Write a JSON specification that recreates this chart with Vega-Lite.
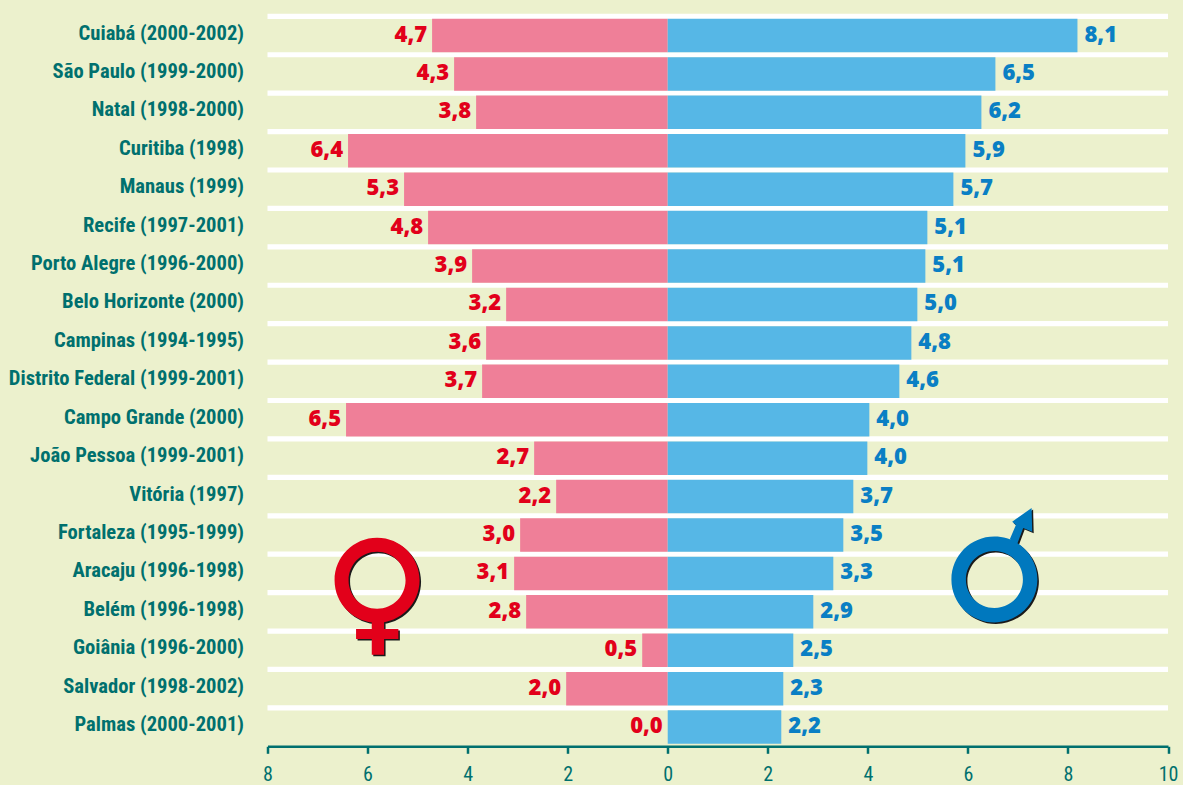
{"$schema":"https://vega.github.io/schema/vega-lite/v6.json","autosize":{"type":"none"},"padding":{"left":267.5,"top":16.3,"right":15,"bottom":38.7},"width":900.5,"height":730,"background":"#ECF1CD","config":{"view":{"stroke":null}},
"datasets":{"linhas":[
{"cidade":"Cuiabá (2000-2002)","mulheres":-4.71,"homens":8.19,"rm":"4,7","rh":"8,1"},
{"cidade":"São Paulo (1999-2000)","mulheres":-4.27,"homens":6.55,"rm":"4,3","rh":"6,5"},
{"cidade":"Natal (1998-2000)","mulheres":-3.83,"homens":6.27,"rm":"3,8","rh":"6,2"},
{"cidade":"Curitiba (1998)","mulheres":-6.39,"homens":5.95,"rm":"6,4","rh":"5,9"},
{"cidade":"Manaus (1999)","mulheres":-5.27,"homens":5.71,"rm":"5,3","rh":"5,7"},
{"cidade":"Recife (1997-2001)","mulheres":-4.79,"homens":5.19,"rm":"4,8","rh":"5,1"},
{"cidade":"Porto Alegre (1996-2000)","mulheres":-3.91,"homens":5.15,"rm":"3,9","rh":"5,1"},
{"cidade":"Belo Horizonte (2000)","mulheres":-3.23,"homens":4.99,"rm":"3,2","rh":"5,0"},
{"cidade":"Campinas (1994-1995)","mulheres":-3.63,"homens":4.87,"rm":"3,6","rh":"4,8"},
{"cidade":"Distrito Federal (1999-2001)","mulheres":-3.71,"homens":4.63,"rm":"3,7","rh":"4,6"},
{"cidade":"Campo Grande (2000)","mulheres":-6.43,"homens":4.03,"rm":"6,5","rh":"4,0"},
{"cidade":"João Pessoa (1999-2001)","mulheres":-2.67,"homens":3.99,"rm":"2,7","rh":"4,0"},
{"cidade":"Vitória (1997)","mulheres":-2.23,"homens":3.71,"rm":"2,2","rh":"3,7"},
{"cidade":"Fortaleza (1995-1999)","mulheres":-2.95,"homens":3.51,"rm":"3,0","rh":"3,5"},
{"cidade":"Aracaju (1996-1998)","mulheres":-3.07,"homens":3.31,"rm":"3,1","rh":"3,3"},
{"cidade":"Belém (1996-1998)","mulheres":-2.83,"homens":2.91,"rm":"2,8","rh":"2,9"},
{"cidade":"Goiânia (1996-2000)","mulheres":-0.51,"homens":2.51,"rm":"0,5","rh":"2,5"},
{"cidade":"Salvador (1998-2002)","mulheres":-2.03,"homens":2.31,"rm":"2,0","rh":"2,3"},
{"cidade":"Palmas (2000-2001)","mulheres":0,"homens":2.27,"rm":"0,0","rh":"2,2"}
],"simbolos":[{"sexo":"Mulheres","x":-5.8,"cidade":"Aracaju (1996-1998)"},{"sexo":"Homens","x":6.54,"cidade":"Aracaju (1996-1998)"}]},
"data":{"name":"linhas"},
"encoding":{"y":{"field":"cidade","type":"nominal","title":null,"scale":{"domain":["Cuiabá (2000-2002)","São Paulo (1999-2000)","Natal (1998-2000)","Curitiba (1998)","Manaus (1999)","Recife (1997-2001)","Porto Alegre (1996-2000)","Belo Horizonte (2000)","Campinas (1994-1995)","Distrito Federal (1999-2001)","Campo Grande (2000)","João Pessoa (1999-2001)","Vitória (1997)","Fortaleza (1995-1999)","Aracaju (1996-1998)","Belém (1996-1998)","Goiânia (1996-2000)","Salvador (1998-2002)","Palmas (2000-2001)"],"paddingInner":0,"paddingOuter":0},"axis":{"domain":false,"ticks":false,"grid":false,"labelPadding":24,"labelOffset":-2,"labelFont":"Roboto Condensed, Noto Sans Condensed, Open Sans Condensed, DejaVu Sans Condensed, Roboto","labelFontWeight":"bold","labelFontSize":20.6,"labelColor":"#00706E","labelLimit":300}}},
"layer":[
{"mark":{"type":"rule","color":"#FFFFFF","strokeWidth":5.2,"yOffset":-19.2},"encoding":{"x":{"datum":-8,"type":"quantitative","title":null,"scale":{"domain":[-8,10],"nice":false,"zero":false},"axis":{"values":[-8,-6,-4,-2,0,2,4,6,8,10],"labelExpr":"abs(datum.value)","grid":false,"domainColor":"#00706E","domainWidth":2.5,"tickColor":"#00706E","tickWidth":2.5,"tickSize":7,"labelPadding":11,"labelFont":"Roboto Condensed, Noto Sans Condensed, Open Sans Condensed, DejaVu Sans Condensed, Roboto","labelFontSize":20,"labelColor":"#00706E","labelFlush":false,"labelOverlap":false,"labelBound":false}},"x2":{"datum":10}}},
{"mark":{"type":"bar","color":"#EF7F98","size":33.5},"encoding":{"x":{"field":"mulheres","type":"quantitative","stack":null},"x2":{"datum":0}}},
{"mark":{"type":"bar","color":"#56B7E6","size":33.5},"encoding":{"x":{"field":"homens","type":"quantitative","stack":null},"x2":{"datum":0}}},
{"mark":{"type":"text","align":"right","dx":-5,"dy":-1,"font":"Open Sans","fontWeight":800,"fontSize":22,"color":"#E2001A"},"encoding":{"x":{"field":"mulheres","type":"quantitative","stack":null},"text":{"field":"rm"}}},
{"mark":{"type":"text","align":"left","dx":7,"dy":-1,"font":"Open Sans","fontWeight":800,"fontSize":22,"color":"#0A7FC4"},"encoding":{"x":{"field":"homens","type":"quantitative","stack":null},"text":{"field":"rh"}}},
{"data":{"name":"simbolos"},"transform":[{"filter":"datum.sexo==='Mulheres'"}],"mark":{"type":"point","filled":true,"opacity":1,"color":"#1A1A1A","size":4,"xOffset":1,"yOffset":8.3,"shape":"M-42.5,0A42.5,42.5 0 1,1 42.5,0A42.5,42.5 0 1,1 -42.5,0ZM-28.5,0A28.5,28.5 0 1,0 28.5,0A28.5,28.5 0 1,0 -28.5,0ZM-5.3,41L7,41L7,48.8L21.3,48.8L21.3,58.8L7,58.8L7,74.5L-5.3,74.5L-5.3,58.8L-21,58.8L-21,48.8L-5.3,48.8Z"},"encoding":{"x":{"field":"x","type":"quantitative"}}},
{"data":{"name":"simbolos"},"transform":[{"filter":"datum.sexo==='Mulheres'"}],"mark":{"type":"point","filled":true,"opacity":1,"color":"#E2001A","size":4,"xOffset":-0.5,"yOffset":6.8,"shape":"M-42.5,0A42.5,42.5 0 1,1 42.5,0A42.5,42.5 0 1,1 -42.5,0ZM-28.5,0A28.5,28.5 0 1,0 28.5,0A28.5,28.5 0 1,0 -28.5,0ZM-5.3,41L7,41L7,48.8L21.3,48.8L21.3,58.8L7,58.8L7,74.5L-5.3,74.5L-5.3,58.8L-21,58.8L-21,48.8L-5.3,48.8Z"},"encoding":{"x":{"field":"x","type":"quantitative"}}},
{"data":{"name":"simbolos"},"transform":[{"filter":"datum.sexo==='Homens'"}],"mark":{"type":"point","filled":true,"opacity":1,"color":"#1A1A1A","size":4,"xOffset":1,"yOffset":7.5,"shape":"M-43,0A43,43 0 1,1 43,0A43,43 0 1,1 -43,0ZM-28.5,0A28.5,28.5 0 1,0 28.5,0A28.5,28.5 0 1,0 -28.5,0ZM15.5,-40.4L21.5,-54.4L17.8,-57.7L37.2,-71.4L37.8,-47.7L28.8,-51.4L22.8,-35.4Z"},"encoding":{"x":{"field":"x","type":"quantitative"}}},
{"data":{"name":"simbolos"},"transform":[{"filter":"datum.sexo==='Homens'"}],"mark":{"type":"point","filled":true,"opacity":1,"color":"#0078BE","size":4,"xOffset":-0.5,"yOffset":6,"shape":"M-43,0A43,43 0 1,1 43,0A43,43 0 1,1 -43,0ZM-28.5,0A28.5,28.5 0 1,0 28.5,0A28.5,28.5 0 1,0 -28.5,0ZM15.5,-40.4L21.5,-54.4L17.8,-57.7L37.2,-71.4L37.8,-47.7L28.8,-51.4L22.8,-35.4Z"},"encoding":{"x":{"field":"x","type":"quantitative"}}}
]}
